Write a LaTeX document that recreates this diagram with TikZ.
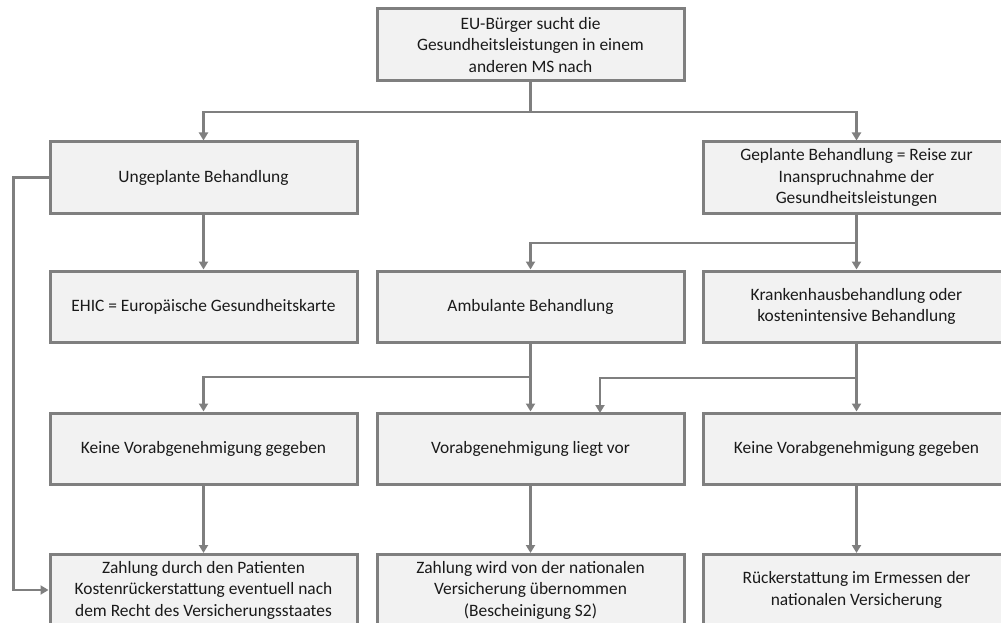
\documentclass[tikz,border=0pt]{standalone}
\usepackage{fontspec}
\setmainfont{Carlito}
\usetikzlibrary{arrows.meta}
\definecolor{linegray}{HTML}{7F7F7F}
\definecolor{boxfill}{HTML}{F2F2F2}
\definecolor{inktext}{HTML}{1A1A1A}
\tikzset{
  stepbox/.style={draw=linegray, fill=boxfill, line width=3pt,
    minimum width=307pt, minimum height=71pt, inner sep=0pt,
    align=center, text=inktext,
    font=\fontsize{17.4pt}{21.5pt}\selectfont},
  conn/.style={draw=linegray, line width=2.8pt},
  arr/.style={conn, -{Triangle[length=8pt,width=9pt]}}
}
\begin{document}
\begin{tikzpicture}[x=1pt,y=-1pt]
\useasboundingbox (0,0) rectangle (1001,623);
\clip (0,0) rectangle (1001,623);

% boxes
\node[stepbox, minimum height=72pt] (top) at (530.5,45)
  {EU-Bürger sucht die\\Gesundheitsleistungen in einem\\anderen MS nach};
\node[stepbox] (ung) at (203.5,177.5) {Ungeplante Behandlung};
\node[stepbox] (gep) at (856.5,177.5)
  {Geplante Behandlung = Reise zur\\Inanspruchnahme der\\Gesundheitsleistungen};
\node[stepbox] (ehic) at (203.5,306.5) {EHIC = Europäische Gesundheitskarte};
\node[stepbox] (amb) at (530.5,306.5) {Ambulante Behandlung};
\node[stepbox] (kh) at (856.5,306.5)
  {Krankenhausbehandlung oder\\kostenintensive Behandlung};
\node[stepbox] (kv1) at (203.5,448.5) {Keine Vorabgenehmigung gegeben};
\node[stepbox] (vor) at (530.5,448.5) {Vorabgenehmigung liegt vor};
\node[stepbox] (kv2) at (856.5,448.5) {Keine Vorabgenehmigung gegeben};
\node[stepbox] (z1) at (203.5,590)
  {Zahlung durch den Patienten\\Kostenrückerstattung eventuell nach\\dem Recht des Versicherungsstaates};
\node[stepbox] (z2) at (530.5,590)
  {Zahlung wird von der nationalen\\Versicherung übernommen\\(Bescheinigung S2)};
\node[stepbox] (z3) at (856.5,590)
  {Rückerstattung im Ermessen der\\nationalen Versicherung};

% junction points
\coordinate (j0) at (530.5,112);
\coordinate (jg) at (856.5,243);
\coordinate (ja) at (530.5,377);
\coordinate (jk) at (856.5,378);
\coordinate (vin) at (600,413);

% connectors
\draw[conn] (top) -- (j0);
\draw[arr] (j0) -| (ung);
\draw[arr] (j0) -| (gep);
\draw[arr] (ung) -- (ehic);
\draw[conn] (gep) -- (jg);
\draw[arr] (jg) -| (amb);
\draw[arr] (jg) -- (kh);
\draw[arr] (amb) -- (vor);
\draw[arr] (ja) -| (kv1);
\draw[arr] (kh) -- (kv2);
\draw[arr] (jk) -| (vin);
\draw[arr] (kv1) -- (z1);
\draw[arr] (vor) -- (z2);
\draw[arr] (kv2) -- (z3);
\draw[arr] (ung.west) -- ++(-35,0) |- (z1.west);
\end{tikzpicture}
\end{document}
